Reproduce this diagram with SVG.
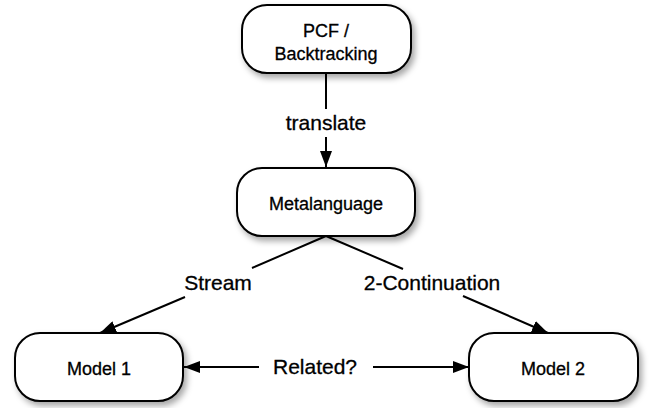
<svg xmlns="http://www.w3.org/2000/svg" width="662" height="408" viewBox="0 0 662 408">
  <style>
    .node rect { fill: #ffffff; stroke: #000000; stroke-width: 2; filter: url(#shadow); }
    .node text { font-family: "Liberation Sans", Arial, sans-serif; font-size: 18px; fill: #000000; stroke: #000000; stroke-width: 0.3; text-anchor: middle; }
    .edge { stroke: #000000; stroke-width: 2; fill: none; }
    .label { font-family: "Liberation Sans", Arial, sans-serif; font-size: 21px; fill: #000000; stroke: #000000; stroke-width: 0.3; text-anchor: middle; }
  </style>
  <defs>
    <filter id="shadow" x="-20%" y="-20%" width="150%" height="160%">
      <feDropShadow dx="3" dy="4" stdDeviation="3" flood-color="#000000" flood-opacity="0.35"/>
    </filter>
    <marker id="arrow" viewBox="0 0 16 12" refX="16" refY="6" markerWidth="16" markerHeight="12" markerUnits="userSpaceOnUse" orient="auto-start-reverse">
      <path d="M0,0 L16,6 L0,12 Z" fill="#000000"/>
    </marker>
  </defs>
  <rect width="662" height="408" fill="#ffffff"/>

  <g id="connectors">
    <line class="edge" x1="326" y1="73" x2="326" y2="109"/>
    <line class="edge" x1="326" y1="137" x2="326" y2="167" marker-end="url(#arrow)"/>
    <line class="edge" x1="326" y1="236" x2="252" y2="268"/>
    <line class="edge" x1="185" y1="297" x2="100" y2="333" marker-end="url(#arrow)"/>
    <line class="edge" x1="326" y1="236" x2="403" y2="269"/>
    <line class="edge" x1="463" y1="296" x2="548" y2="333" marker-end="url(#arrow)"/>
    <line class="edge" x1="259" y1="367" x2="184" y2="367" marker-end="url(#arrow)"/>
    <line class="edge" x1="373" y1="367" x2="469" y2="367" marker-end="url(#arrow)"/>
    <text class="label" x="326" y="130">translate</text>
    <text class="label" x="218" y="290">Stream</text>
    <text class="label" x="432" y="290">2-Continuation</text>
    <text class="label" x="315" y="374">Related?</text>
  </g>

  <g id="pcf" class="node">
    <rect x="242" y="5" width="169" height="68" rx="25" ry="25"/>
    <text x="326" y="37">PCF /</text>
    <text x="326" y="60">Backtracking</text>
  </g>
  <g id="metalanguage" class="node">
    <rect x="237" y="168" width="178" height="68" rx="25" ry="25"/>
    <text x="326" y="210">Metalanguage</text>
  </g>
  <g id="model1" class="node">
    <rect x="15" y="333" width="168" height="68" rx="25" ry="25"/>
    <text x="99" y="375">Model 1</text>
  </g>
  <g id="model2" class="node">
    <rect x="469" y="333" width="169" height="68" rx="25" ry="25"/>
    <text x="553" y="375">Model 2</text>
  </g>
</svg>
